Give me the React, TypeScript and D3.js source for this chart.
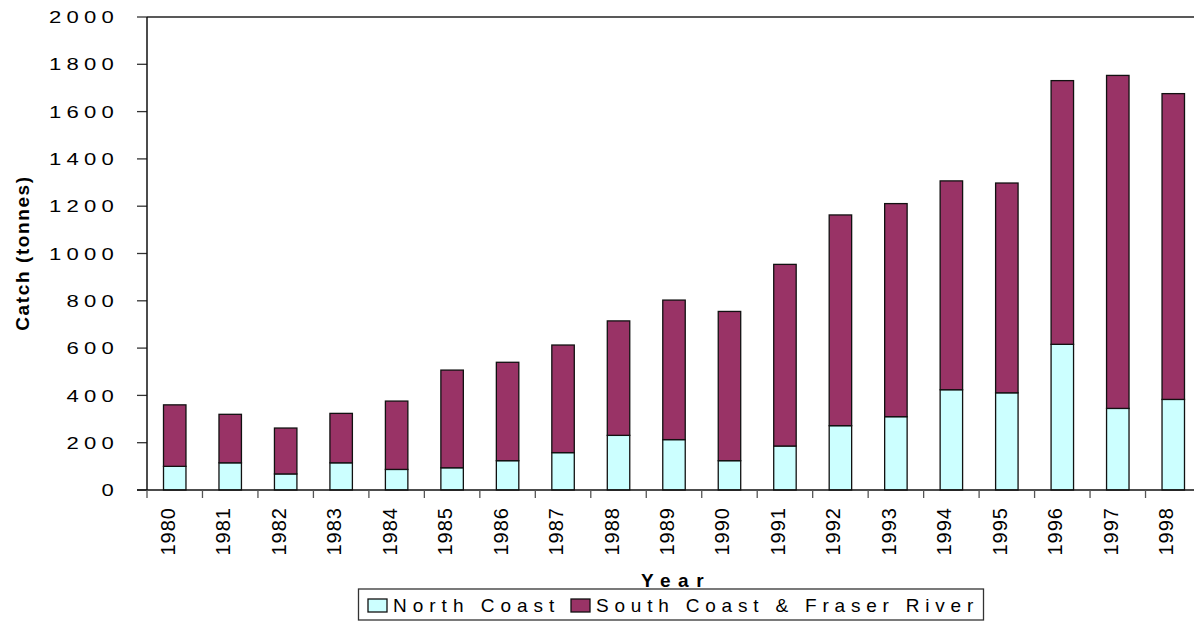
import React from "react";
import * as d3 from "d3";

// Catch by region, 1980–1998 (tonnes)
const years = ["1980","1981","1982","1983","1984","1985","1986","1987","1988","1989","1990","1991","1992","1993","1994","1995","1996","1997","1998"];
const northCoast = [100,115,68,115,87,94,124,158,231,213,124,186,272,310,424,411,616,345,383];
const southCoastFraser = [260,205,194,209,289,413,416,455,484,590,631,768,891,901,883,887,1115,1408,1293];
const yTicks = [0,200,400,600,800,1000,1200,1400,1600,1800,2000];
const seriesNames = ["North Coast", "South Coast & Fraser River"];
const seriesColors = ["#CCFFFF", "#993366"];

const W = 1194;
const H = 621;
const left = 147;
const right = 1201;
const top = 17;
const bottom = 490;
const FONT = "'Liberation Sans', Arial, Helvetica, sans-serif";

export default function App() {
  const x = d3.scaleBand<string>().domain(years).range([left, right]).paddingInner(0.595).paddingOuter(0.2975);
  const y = d3.scaleLinear().domain([0, 2000]).range([bottom, top]);
  const step = x.step();

  const rows = years.map((yr, i) => ({ year: yr, north: northCoast[i], south: southCoastFraser[i] }));
  const stacked = d3.stack<any>().keys(["north", "south"])(rows);

  return (
    <svg width={W} height={H} style={{ position: "absolute", left: 0, top: 0, background: "#fff" }} fontFamily={FONT}>
      <rect x={0} y={0} width={W} height={H} fill="#fff" />
      {/* top frame */}
      <line x1={left} x2={right} y1={top} y2={top} stroke="#222" strokeWidth={1.3} />

      {/* y ticks and labels (wide, spaced digits) */}
      {yTicks.map((t) => (
        <g key={t}>
          <line x1={left - 10} x2={left} y1={y(t)} y2={y(t)} stroke="#333" strokeWidth={1.3} />
          <text
            transform={`translate(${119},${y(t)}) scale(1.3,1)`}
            dy="0.36em"
            textAnchor="end"
            fontSize={17}
            letterSpacing={4}
            fill="#000"
          >
            {t}
          </text>
        </g>
      ))}

      {/* bars */}
      {stacked.map((s, si) => (
        <g key={si}>
          {s.map((d, i) => (
            <rect
              key={i}
              x={x(years[i])!}
              width={x.bandwidth()}
              y={y(d[1])}
              height={y(d[0]) - y(d[1])}
              fill={seriesColors[si]}
              stroke="#111"
              strokeWidth={1.3}
            />
          ))}
        </g>
      ))}

      {/* axes */}
      <line x1={left} x2={left} y1={top} y2={bottom} stroke="#111" strokeWidth={1.5} />
      <line x1={left - 10} x2={right} y1={bottom} y2={bottom} stroke="#111" strokeWidth={1.5} />
      {years.map((yr, i) => (
        <line key={yr} x1={left + i * step} x2={left + i * step} y1={bottom} y2={bottom + 8} stroke="#555" strokeWidth={1.3} />
      ))}

      {/* x labels */}
      {years.map((yr) => {
        const cx = x(yr)! + x.bandwidth() / 2;
        return (
          <text key={yr} transform={`translate(${cx},${507}) rotate(-90)`} textAnchor="end" fontSize={20} letterSpacing={1} fill="#000">
            {yr}
          </text>
        );
      })}

      {/* axis titles */}
      <text transform={`translate(${29},${253}) rotate(-90)`} textAnchor="middle" fontSize={19} fontWeight="bold" letterSpacing={1.6} fill="#000">
        Catch (tonnes)
      </text>
      <text x={676} y={586.5} textAnchor="middle" fontSize={19} fontWeight="bold" letterSpacing={7.5} fill="#000">
        Year
      </text>

      {/* legend */}
      <rect x={358.5} y={589} width={625} height={31} fill="#fff" stroke="#333" strokeWidth={1.3} />
      <rect x={368} y={599} width={19} height={13} fill={seriesColors[0]} stroke="#111" strokeWidth={1.3} />
      <text x={393} y={612} fontSize={19} letterSpacing={6} fill="#000">{seriesNames[0]}</text>
      <rect x={571} y={599} width={19} height={13} fill={seriesColors[1]} stroke="#111" strokeWidth={1.3} />
      <text x={596} y={612} fontSize={19} letterSpacing={5.8} fill="#000">{seriesNames[1]}</text>
    </svg>
  );
}
